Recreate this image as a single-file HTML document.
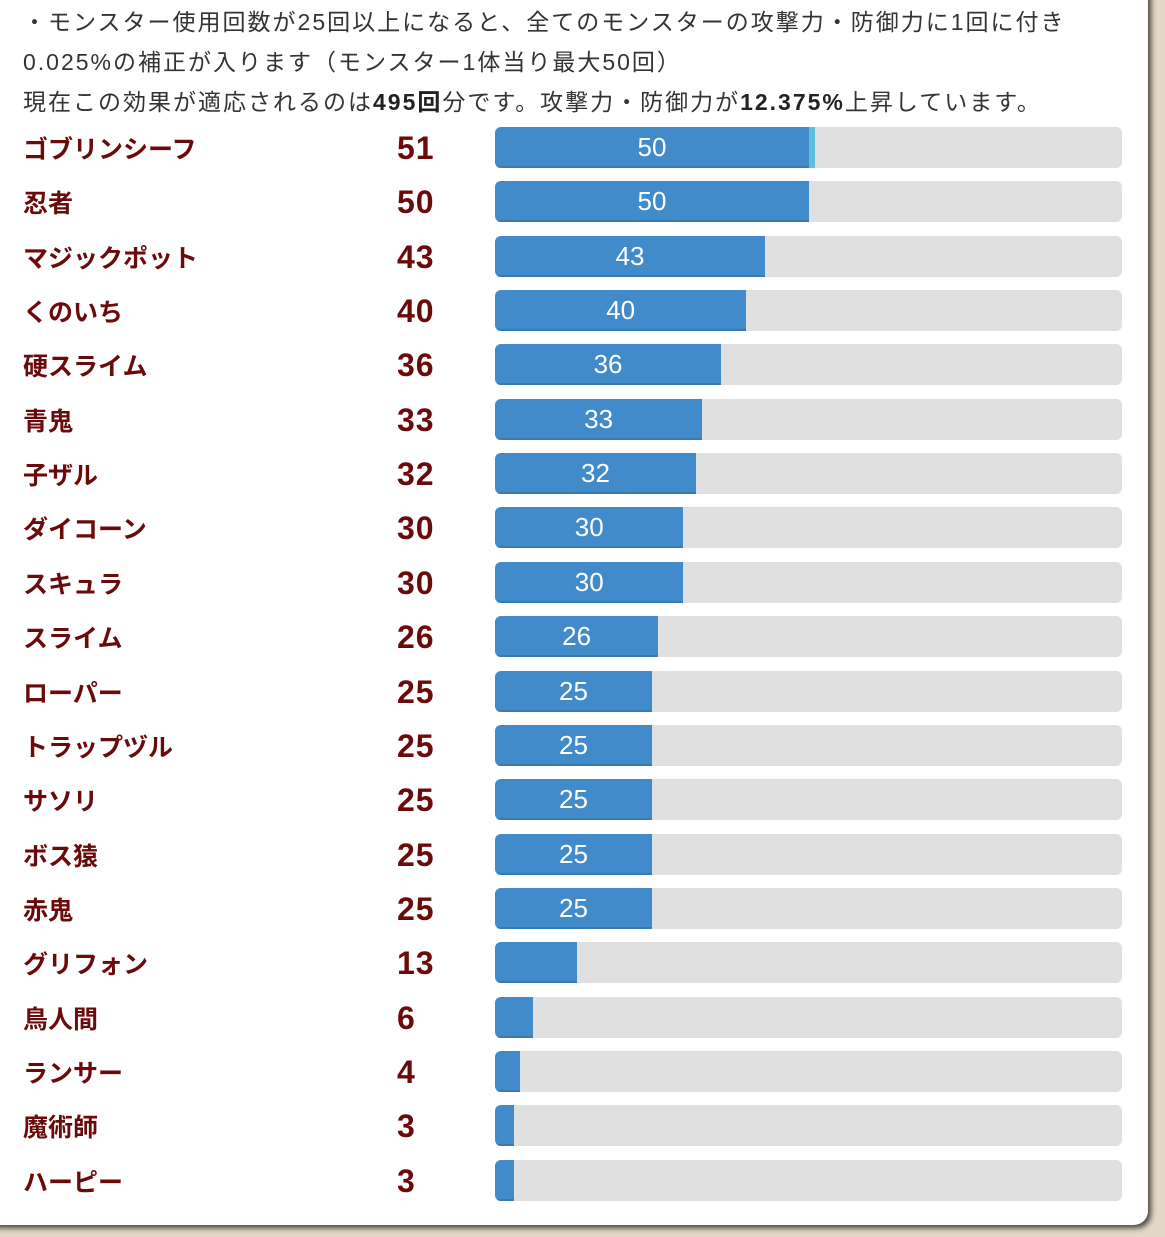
<!DOCTYPE html>
<html><head><meta charset="utf-8"><style>
body{margin:0;width:1165px;height:1237px;background:#e3d9c6;position:relative;overflow:hidden;font-family:"Liberation Sans","Noto Sans CJK JP",sans-serif}
.card{position:absolute;left:-20px;top:-20px;width:1168px;height:1245px;background:#fff;border-radius:14px;box-shadow:3px 3px 6px rgba(0,0,0,.7)}
.t{position:absolute;left:23px;font-size:23px;color:#333;white-space:nowrap;letter-spacing:2px}
.t b{font-weight:bold;color:#222}
.row{position:absolute;left:0;width:1165px;height:42px}
.nm{position:absolute;left:23px;top:3px;font-size:25px;font-weight:bold;color:#6b0a0a;white-space:nowrap;letter-spacing:0}
.n{position:absolute;left:397px;top:3px;font-size:32px;font-weight:bold;color:#6b0a0a;letter-spacing:1px}
.tr{position:absolute;left:495px;top:0;width:627px;height:41px;background:#e0e0e0;border-radius:6px;overflow:hidden}
.b{position:absolute;left:0;top:0;height:41px;background:#428bca;border-bottom:2px solid #3a7ab3;box-sizing:border-box;color:#fff;font-size:26px;text-align:center;line-height:41px}
.x{position:absolute;top:0;height:41px;background:#5bc0de}
</style></head><body><div class="card"></div>
<div class="t" style="top:3px">・モンスター使用回数が25回以上になると、全てのモンスターの攻撃力・防御力に1回に付き</div>
<div class="t" style="top:43px">0.025%の補正が入ります（モンスター1体当り最大50回）</div>
<div class="t" style="top:83px">現在この効果が適応されるのは<b>495回</b>分です。攻撃力・防御力が<b>12.375%</b>上昇しています。</div>
<div id="rows"></div>
<script>
var d=[["ゴブリンシーフ",51],["忍者",50],["マジックポット",43],["くのいち",40],["硬スライム",36],["青鬼",33],["子ザル",32],["ダイコーン",30],["スキュラ",30],["スライム",26],["ローパー",25],["トラップヅル",25],["サソリ",25],["ボス猿",25],["赤鬼",25],["グリフォン",13],["鳥人間",6],["ランサー",4],["魔術師",3],["ハーピー",3]];
var h="";d.forEach(function(r,i){var y=127+i*54.35,v=Math.min(r[1],50),w=v*6.28;
h+='<div class="row" style="top:'+y+'px"><div class="nm">'+r[0]+'</div><div class="n">'+r[1]+'</div><div class="tr"><div class="b" style="width:'+w+'px">'+(r[1]>=25?v:'')+'</div>'+(r[1]>50?'<div class="x" style="left:'+w+'px;width:'+((r[1]-50)*6.28)+'px"></div>':'')+'</div></div>';});
document.getElementById("rows").innerHTML=h;
</script></body></html>
